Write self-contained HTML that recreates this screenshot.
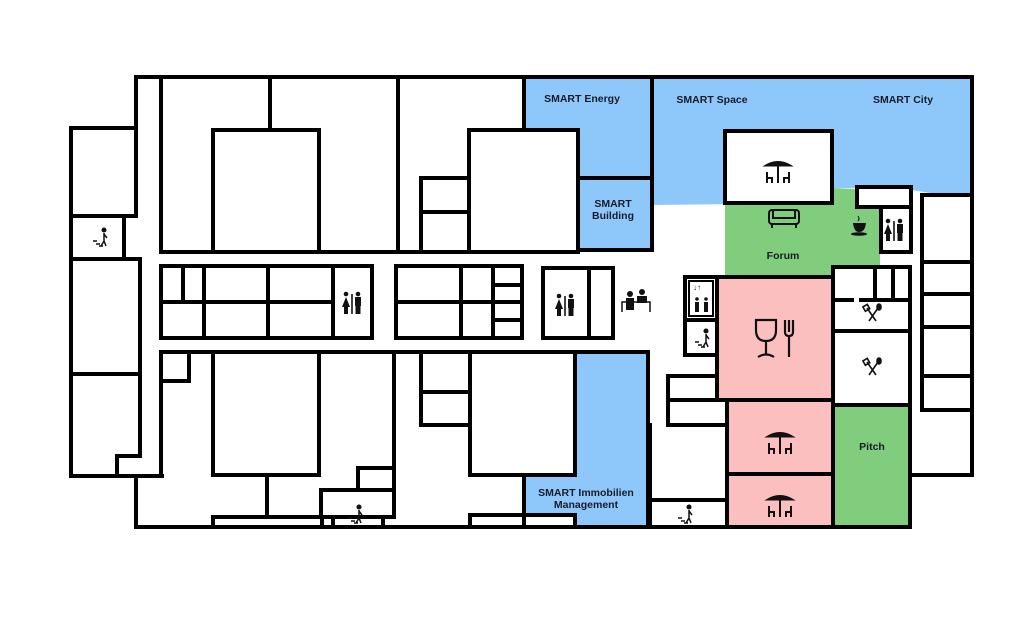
<!DOCTYPE html>
<html><head><meta charset="utf-8"><style>
html,body{margin:0;padding:0;background:#fff;width:1024px;height:639px;overflow:hidden}
svg{display:block}
text{font-family:"Liberation Sans",Arial,sans-serif;font-weight:bold;font-size:10.5px;fill:#1a1a2a}
</style></head><body>
<svg width="1024" height="639" viewBox="0 0 1024 639" xmlns="http://www.w3.org/2000/svg">
<defs>
<g id="tbl" fill="none" stroke="#111" stroke-width="2">
<path d="M-14,-3 Q0,-12 14,-3 Z" fill="#111" stroke-width="1"/>
<path d="M0,-3 V14 M-11,3 V14 M-11,9 H-6 V14 M11,3 V14 M11,9 H6 V14"/>
</g>
<g id="wc" fill="#111">
<circle cx="-6" cy="-9" r="2.3"/><path d="M-6,-6 L-10,4 H-8 V11 H-4 V4 H-2 Z"/>
<rect x="-0.8" y="-9" width="1.6" height="20"/>
<circle cx="6" cy="-9" r="2.3"/><rect x="3" y="-6" width="6" height="9"/><rect x="3.5" y="3" width="5" height="8"/>
</g>
<g id="stair" fill="none" stroke="#111" stroke-width="1.5">
<circle cx="2" cy="-8" r="1.8" fill="#111"/>
<path d="M2,-5 V3 L-1,8 M2,3 L4,8 M2,-4 L5,0 M-9,3 H-5 M-6,6 H-2 M-3,8 H1"/>
</g>
<g id="utens" fill="none" stroke="#111" stroke-width="1.6">
<path d="M-6,-7 L3,6 M5,-7 L-4,6"/><rect x="-9" y="-10" width="5" height="5" transform="rotate(-30 -6 -7)"/><ellipse cx="6" cy="-8" rx="2" ry="3" fill="#111"/>
</g>
</defs>

<polygon points="524,77 652,77 652,250 577,250 577,130 524,130" fill="#8ec8fb"/>
<polygon points="652,77 972,77 972,193 930,193 900,188 832,188 832,203 652,205" fill="#8ec8fb"/>
<polygon points="725,203 832,203 832,188 880,190 880,267 833,267 833,277 725,277" fill="#7fcd7d"/>
<rect x="725" y="131" width="107" height="72" fill="#fff"/>
<rect x="857" y="187" width="54" height="20" fill="#fff"/>
<rect x="881" y="207" width="30" height="45" fill="#fff"/>
<rect x="717" y="277" width="116" height="123" fill="#fbbfc0"/>
<rect x="727" y="400" width="106" height="127" fill="#fbbfc0"/>
<rect x="835" y="405" width="75" height="122" fill="#7fcd7d"/>
<polygon points="575,353 648,353 648,527 524,527 524,475 575,475" fill="#8ec8fb"/>
<rect x="470" y="515" width="105" height="13" fill="#fff"/>

<g fill="none" stroke="#000" stroke-width="4" stroke-linejoin="miter" stroke-linecap="square">
<path d="M136,216 V77 H972 V475 H910"/>
<path d="M910,527 H136 V476"/>
<path d="M136,128 H71 V476 H162 M71,216 H136 M124,216 V259 M71,259 H140 V456 H117 V476 M71,374 H140"/>
<path d="M161,77 V252 H578 M270,77 V130 M213,252 V130 H319 V252 M398,77 V252 M421,252 V178 H469 M421,212 H469 M469,252 V130 H578 V252"/>
<path d="M524,77 V130 M578,178 H652 M652,77 V250 H578"/>
<rect x="725" y="131" width="107" height="72"/>
<path d="M857,207 V187 H911 V207 H857 M881,207 V252 H911 V207"/>
<path d="M922,410 V195 H972 M922,262 H972 M922,294 H972 M922,327 H972 M922,376 H972 M922,410 H972"/>
<path d="M833,405 V267 H910 V527 M875,267 V300 M893,267 V300 M833,300 H852 M861,300 H910 M833,331 H910 M833,405 H910"/>
<path d="M717,400 V277 H833 M717,400 H833 M727,400 V527 M727,474 H833 M833,405 V527"/>
<path d="M685,355 V277 H717 M685,355 H717 M685,320 H717"/>
<rect x="689" y="281" width="24" height="35" stroke-width="2"/>
<path d="M668,400 V376 H717 M668,400 H727 M668,400 V425 H727 M650,527 V425 M650,500 H727"/>
<rect x="161" y="266" width="211" height="72"/>
<path d="M161,302 H333 M183,266 V302 M204,266 V338 M268,266 V338 M333,266 V338"/>
<rect x="396" y="266" width="126" height="72"/>
<path d="M396,302 H493 M461,266 V338 M493,266 V338 M493,285 H522 M493,302 H522 M493,320 H522"/>
<rect x="543" y="268" width="70" height="70"/>
<path d="M589,268 V338"/>
<path d="M161,476 V352 H648 V527 M161,381 H189 V352 M213,352 V475 H319 V352 M267,475 V517 M213,527 V517 H322 V527 M394,352 V517 M358,490 V468 H394 M321,490 H394 V517 H321 Z M333,517 V527 M383,517 V527 M421,352 V425 H470 M421,392 H470 M470,352 V475 H575 V352 M470,527 V515 H575 V527 M524,475 V527"/>
</g>

<text x="582" y="102" text-anchor="middle">SMART Energy</text>
<text x="712" y="103" text-anchor="middle">SMART Space</text>
<text x="903" y="103" text-anchor="middle">SMART City</text>
<text x="613" y="207" text-anchor="middle">SMART</text>
<text x="613" y="219" text-anchor="middle">Building</text>
<text x="783" y="259" text-anchor="middle">Forum</text>
<text x="872" y="450" text-anchor="middle">Pitch</text>
<text x="586" y="496" text-anchor="middle">SMART Immobilien</text>
<text x="586" y="508" text-anchor="middle">Management</text>

<use href="#tbl" x="778" y="169"/>
<use href="#tbl" x="780" y="440"/>
<use href="#tbl" x="780" y="503"/>
<use href="#wc" x="352" y="303"/>
<use href="#wc" x="565" y="305"/>
<use href="#wc" x="894" y="230"/>
<use href="#stair" x="102" y="238"/>
<use href="#stair" x="357" y="515"/>
<use href="#stair" x="687" y="515"/>
<use href="#stair" x="704" y="339"/>
<use href="#utens" x="873" y="315"/>
<use href="#utens" x="873" y="369"/>
<g fill="none" stroke="#111" stroke-width="2"><rect x="769" y="210" width="30" height="14" rx="3"/><path d="M773,210 V218 H795 V210 M772,224 V228 M796,224 V228"/></g>
<g fill="#111"><path d="M853,223 H866 Q865,232 859,232 Q854,232 853,223 Z"/><ellipse cx="859" cy="234" rx="8" ry="1.8"/><path d="M858,216 Q860,219 858,221" stroke="#111" fill="none"/></g>
<text x="693" y="290" style="font-size:8px">↓↑</text>
<g fill="#111"><circle cx="697" cy="299" r="1.8"/><path d="M695,302 h4 v10 h-4z"/><circle cx="706" cy="299" r="1.8"/><path d="M704,302 h4 v10 h-4z"/></g>
<g fill="#111"><circle cx="630" cy="294" r="3"/><rect x="626" y="298" width="8" height="12"/><circle cx="642" cy="292" r="3"/><rect x="637" y="296" width="10" height="7"/></g>
<path d="M622,312 V302 H650 V312" fill="none" stroke="#111" stroke-width="1.5"/>
<g fill="none" stroke="#111" stroke-width="2.2"><path d="M756,320 H776 V330 Q776,341 766,341 Q756,341 756,330 Z M766,341 V355 M758,357 Q766,352 774,357"/><path d="M785,320 V332 Q785,336 789,336 Q793,336 793,332 V320 M789,320 V332 M789,336 V357"/></g>
</svg>
</body></html>
